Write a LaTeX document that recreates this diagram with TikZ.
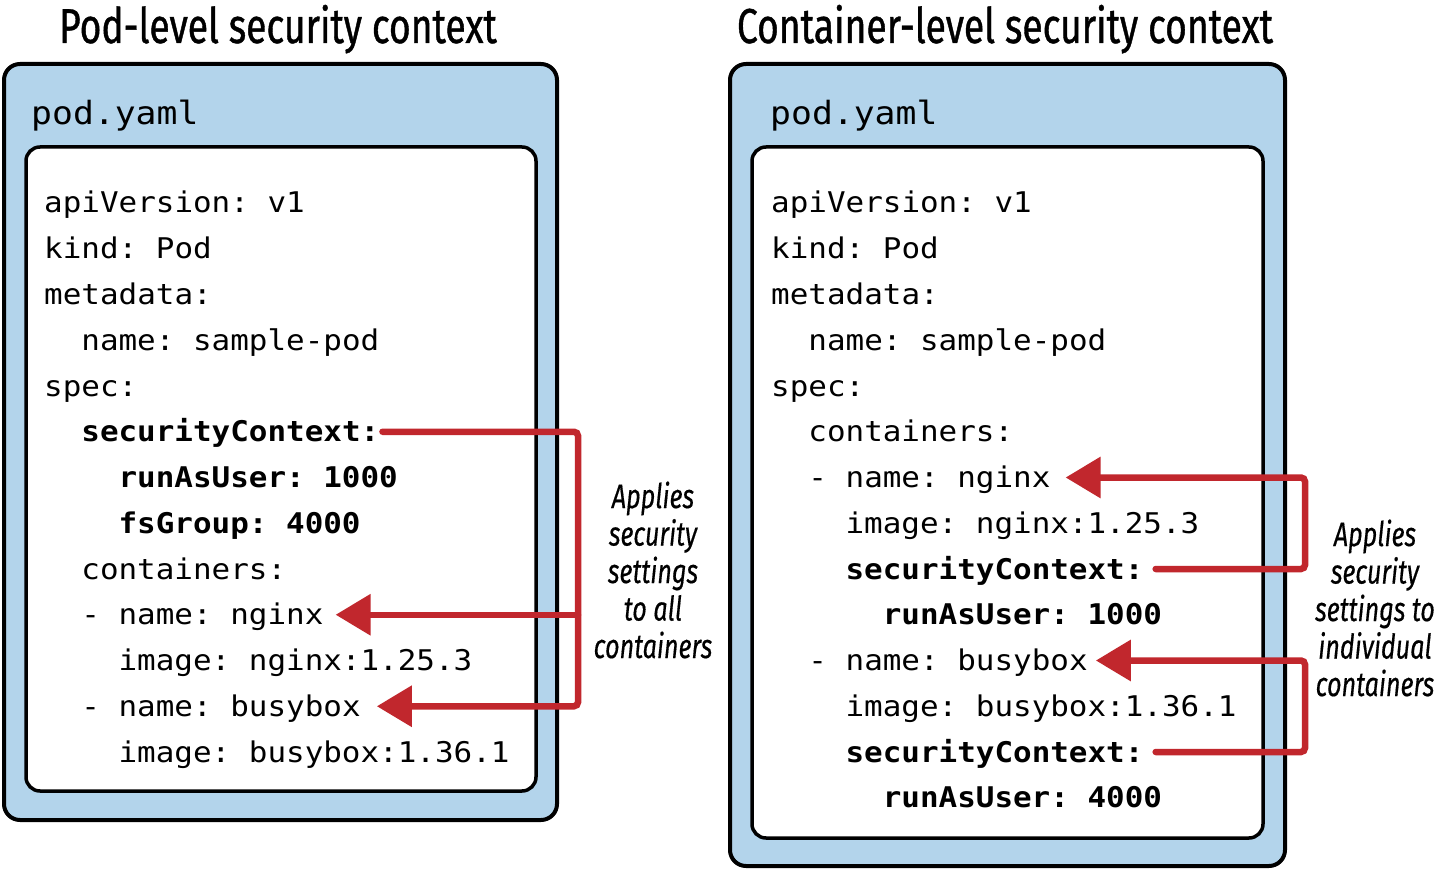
\documentclass[tikz,border=0pt]{standalone}
\usepackage{fontspec}
\setmonofont[FakeStretch=1.085]{DejaVu Sans Mono}
\newfontfamily\titlefont[FakeStretch=0.76,FakeBold=0.8]{Fira Sans}
\newfontfamily\notefont[FakeStretch=0.74,FakeBold=0.4]{Fira Sans}
\usepackage{xcolor}
\usetikzlibrary{arrows.meta}
\definecolor{podblue}{HTML}{B3D4EB}
\definecolor{arrowred}{HTML}{C1272D}

\begin{document}
\begin{tikzpicture}[x=1pt,y=-1pt,
	outerbox/.style={draw=black, line width=4pt, fill=podblue, rounded corners=16pt},
	innerbox/.style={draw=black, line width=3.5pt, fill=white, rounded corners=14pt},
	title/.style={font=\titlefont\fontsize{49}{49}\selectfont, anchor=base, inner sep=0pt},
	file/.style={font=\ttfamily\fontsize{32}{32}\selectfont, anchor=base west, inner sep=0pt},
	code/.style={font=\ttfamily\fontsize{28.5}{28.5}\selectfont, anchor=base west, inner sep=0pt, text height=20pt, text depth=0pt},
	note/.style={font=\notefont\itshape\fontsize{34}{37.5}\selectfont, align=center, inner sep=0pt},
	redline/.style={draw=arrowred, line width=6.5pt, line cap=round, rounded corners=4pt},
	redarrow/.style={redline, -{Triangle[length=35pt,width=40pt]}}]
	\path[use as bounding box] (0,0) rectangle (1436,869);

	% Pod-level panel
	\node[title] (lefttitle) at (278,43) {Pod-level security context};
	\draw[outerbox] (4,64) rectangle (557,820);
	\node[file] (leftfile) at (31,125) {pod.yaml};
	\draw[innerbox] (26,147) rectangle (536,791);
	\foreach \ind/\txt [count=\i] in {0/apiVersion: v1, 0/kind: Pod, 0/metadata:, 2/name: sample-pod, 0/spec:,
		2/\textbf{securityContext:}, 4/\textbf{runAsUser: 1000}, 4/\textbf{fsGroup: 4000}, 2/containers:,
		2/- name: nginx, 4/image: nginx:1.25.3, 2/- name: busybox, 4/image: busybox:1.36.1} {
		\node[code] (L\i) at ({44+\ind*18.6},{213+(\i-1)*45.75}) {\txt};
	}
	\coordinate (lbar) at (578,0);
	\draw[redarrow] ([xshift=3pt]L6.east) -| (lbar |- L12.east) -- ([xshift=16pt]L12.east);
	\draw[redarrow] (lbar |- L10.east) -- ([xshift=12pt]L10.east);
	\node[note] (leftnote) at (653,570) {Applies\\security\\settings\\to all\\containers};

	% Container-level panel
	\node[title] (righttitle) at (1005,43) {Container-level security context};
	\draw[outerbox] (730,64) rectangle (1285,866);
	\node[file] (rightfile) at (770,125) {pod.yaml};
	\draw[innerbox] (752,147) rectangle (1263,838);
	\foreach \ind/\txt [count=\i] in {0/apiVersion: v1, 0/kind: Pod, 0/metadata:, 2/name: sample-pod, 0/spec:,
		2/containers:, 2/- name: nginx, 4/image: nginx:1.25.3, 4/\textbf{securityContext:}, 6/\textbf{runAsUser: 1000},
		2/- name: busybox, 4/image: busybox:1.36.1, 4/\textbf{securityContext:}, 6/\textbf{runAsUser: 4000}} {
		\node[code] (R\i) at ({771+\ind*18.6},{213+(\i-1)*45.75}) {\txt};
	}
	\coordinate (rbar) at (1305,0);
	\draw[redarrow] ([xshift=12pt]R9.east) -| (rbar |- R7.east) -- ([xshift=15pt]R7.east);
	\draw[redarrow] ([xshift=12pt]R13.east) -| (rbar |- R11.east) -- ([xshift=8pt]R11.east);
	\node[note] (rightnote) at (1375,608) {Applies\\security\\settings to\\individual\\containers};
\end{tikzpicture}
\end{document}
